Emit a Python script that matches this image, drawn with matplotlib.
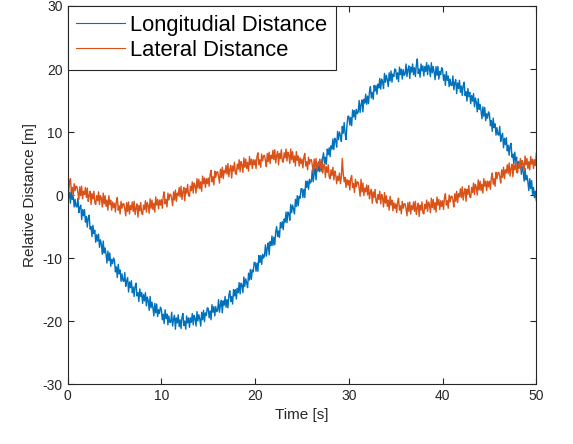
import matplotlib
matplotlib.use('Agg')
import matplotlib.pyplot as plt
import numpy as np

plt.rcParams['font.family'] = ['Liberation Sans', 'DejaVu Sans']
plt.rcParams['axes.unicode_minus'] = False

# values (m), one row per second, 0.1 s apart
longitudinal = [
    1.4, -0.4, 0.4, -1.3, 0.8, -0.7, -0.1, -1.9, -0.7, -1.8,
    -1.9, -0.5, -2.8, -2.0, -1.6, -3.9, -2.3, -3.3, -2.3, -4.3,
    -3.4, -5.1, -3.6, -3.2, -5.4, -5.0, -6.6, -4.8, -6.1, -5.6,
    -7.5, -6.3, -7.3, -6.2, -8.3, -7.1, -7.8, -9.4, -7.3, -9.2,
    -8.4, -9.4, -10.8, -8.9, -10.4, -9.2, -11.3, -10.2, -10.9, -10.0,
    -10.4, -12.2, -11.4, -13.1, -11.0, -12.5, -11.9, -13.7, -12.5, -13.6,
    -13.7, -12.3, -14.5, -13.6, -13.1, -15.4, -13.8, -14.7, -13.6, -15.5,
    -14.6, -16.1, -14.5, -14.0, -16.0, -15.5, -16.9, -14.9, -16.1, -15.5,
    -17.2, -15.8, -16.8, -15.5, -17.6, -16.2, -16.8, -18.3, -16.1, -17.9,
    -17.0, -17.9, -19.2, -17.2, -18.7, -17.3, -19.3, -18.2, -18.8, -17.8,
    -18.1, -19.8, -18.9, -20.4, -18.2, -19.6, -18.9, -20.6, -19.2, -20.2,
    -20.2, -18.6, -20.8, -19.7, -19.1, -21.3, -19.5, -20.3, -19.0, -20.9,
    -19.8, -21.2, -19.4, -18.8, -20.7, -20.0, -21.3, -19.2, -20.3, -19.5,
    -21.0, -19.5, -20.2, -18.8, -20.6, -19.1, -19.6, -20.8, -18.5, -20.0,
    -19.0, -19.7, -20.8, -18.6, -19.8, -18.3, -20.1, -18.7, -19.1, -17.9,
    -18.0, -19.5, -18.4, -19.8, -17.4, -18.6, -17.7, -19.2, -17.7, -18.5,
    -18.3, -16.6, -18.6, -17.4, -16.7, -18.7, -16.8, -17.5, -16.1, -17.8,
    -16.6, -17.9, -15.9, -15.2, -16.9, -16.1, -17.3, -15.0, -16.0, -15.0,
    -16.5, -14.8, -15.5, -13.9, -15.7, -14.0, -14.3, -15.5, -13.0, -14.5,
    -13.3, -13.9, -14.7, -12.4, -13.5, -11.8, -13.4, -11.9, -12.2, -10.7,
    -10.7, -12.1, -10.8, -12.1, -9.6, -10.7, -9.6, -11.0, -9.4, -10.0,
    -9.7, -7.9, -9.7, -8.4, -7.6, -9.5, -7.4, -8.0, -6.5, -8.0,
    -6.7, -7.9, -5.8, -5.0, -6.6, -5.7, -6.7, -4.4, -5.2, -4.2,
    -5.5, -3.8, -4.3, -2.7, -4.4, -2.7, -2.9, -4.0, -1.5, -2.8,
    -1.6, -2.2, -3.0, -0.7, -1.8, -0.1, -1.7, -0.2, -0.5, 1.0,
    1.0, -0.4, 0.9, -0.4, 2.2, 1.2, 2.2, 0.9, 2.5, 1.9,
    2.2, 4.0, 2.1, 3.4, 4.2, 2.4, 4.4, 3.8, 5.3, 3.7,
    5.0, 3.8, 5.9, 6.7, 5.1, 6.0, 4.9, 7.3, 6.4, 7.5,
    6.1, 7.8, 7.3, 8.9, 7.2, 9.0, 8.7, 7.6, 10.1, 8.8,
    10.0, 9.4, 8.5, 10.9, 9.8, 11.5, 9.8, 8.8, 11.1, 12.5,
    12.5, 11.1, 12.3, 11.0, 13.5, 12.4, 13.4, 12.0, 13.6, 12.9,
    13.2, 15.0, 13.1, 14.3, 15.1, 13.2, 15.2, 14.6, 16.0, 14.4,
    15.7, 14.5, 16.4, 17.2, 15.4, 16.3, 15.2, 17.4, 16.5, 17.4,
    16.0, 17.6, 17.0, 18.5, 16.8, 18.4, 18.0, 16.9, 19.3, 17.9,
    19.0, 18.3, 17.2, 19.4, 18.1, 19.7, 17.9, 19.2, 18.8, 20.0,
    19.9, 18.4, 19.4, 18.0, 20.3, 19.1, 20.0, 18.4, 19.9, 19.0,
    19.2, 20.8, 18.8, 19.9, 20.5, 18.5, 20.3, 19.5, 20.8, 19.1,
    20.2, 18.8, 20.6, 21.6, 19.3, 20.0, 18.7, 20.8, 19.7, 20.5,
    18.9, 20.4, 19.6, 21.0, 19.1, 20.6, 20.1, 18.8, 21.0, 19.4,
    20.4, 19.5, 18.3, 20.4, 19.0, 20.4, 18.4, 19.6, 19.1, 20.2,
    19.9, 18.2, 19.1, 17.4, 19.6, 18.2, 18.9, 17.2, 18.4, 17.4,
    17.4, 18.9, 16.7, 17.8, 18.3, 16.1, 17.8, 16.9, 18.2, 16.3,
    17.3, 15.8, 17.4, 17.9, 15.8, 16.4, 14.9, 16.9, 15.6, 16.3,
    14.5, 15.8, 14.9, 16.1, 14.0, 15.4, 14.7, 13.2, 15.3, 13.6,
    14.4, 13.4, 12.1, 14.0, 12.5, 13.9, 11.8, 12.9, 12.2, 13.2,
    12.8, 11.0, 11.8, 10.1, 12.2, 10.7, 11.3, 9.5, 10.7, 9.6,
    9.5, 10.9, 8.5, 9.4, 9.8, 7.5, 9.0, 8.0, 9.1, 7.0,
    7.9, 6.3, 7.8, 8.2, 6.0, 6.5, 4.9, 6.8, 5.4, 6.0,
    4.1, 5.3, 4.3, 5.4, 3.3, 4.5, 3.7, 2.2, 4.2, 2.4,
    3.1, 2.1, 0.7, 2.6, 1.0, 2.3, 0.1, 1.2, -0.4, 0.6,
    -0.9,
]

lateral = [
    1.8, 0.3, 2.0, 2.6, 0.6, 1.2, -0.2, 1.8, 0.7, 1.4,
    1.3, 0.4, -0.7, 1.3, -0.1, 1.4, -0.6, 0.6, 0.1, 1.2,
    -0.4, 1.1, -1.0, 0.0, 0.6, -1.5, 0.2, -0.6, 0.6, -1.2,
    -1.5, -0.1, -0.9, 0.5, -1.5, -0.1, -0.5, -1.9, 0.3, -1.4,
    -0.1, -1.8, -0.8, -2.4, -0.1, -1.5, -0.8, -2.4, -1.1, -2.0,
    -1.3, -2.7, -1.0, -0.4, -2.4, -1.7, -3.0, -1.0, -2.1, -1.4,
    -1.4, -2.2, -3.3, -1.2, -2.6, -1.1, -3.0, -1.7, -2.3, -1.1,
    -2.6, -1.0, -3.1, -2.0, -1.4, -3.5, -1.7, -2.5, -1.2, -2.9,
    -3.1, -1.6, -2.3, -0.9, -2.7, -1.2, -1.7, -2.9, -0.6, -2.1,
    -0.8, -2.3, -1.3, -2.7, -0.3, -1.6, -0.7, -2.2, -0.8, -1.6,
    -0.7, -2.1, -0.2, 0.5, -1.4, -0.7, -1.9, 0.3, -0.8, 0.1,
    0.1, -0.6, -1.7, 0.5, -0.8, 0.8, -1.0, 0.3, -0.1, 1.2,
    -0.3, 1.4, -0.7, 0.5, 1.2, -0.9, 1.0, 0.3, 1.7, -0.1,
    -0.2, 1.4, 0.7, 2.1, 0.3, 1.9, 1.5, 0.3, 2.6, 1.1,
    2.5, 1.0, 2.1, 0.6, 3.0, 1.8, 2.7, 1.2, 2.6, 1.8,
    2.7, 1.4, 3.2, 3.9, 2.1, 2.9, 1.6, 3.8, 2.8, 3.6,
    3.7, 3.0, 1.9, 4.1, 2.8, 4.4, 2.6, 3.9, 3.5, 4.7,
    3.3, 5.0, 2.9, 4.1, 4.7, 2.7, 4.6, 3.8, 5.2, 3.4,
    3.3, 4.9, 4.1, 5.6, 3.7, 5.3, 4.8, 3.6, 5.9, 4.4,
    5.7, 4.2, 5.2, 3.8, 6.1, 4.8, 5.7, 4.2, 5.6, 4.8,
    5.6, 4.2, 6.1, 6.7, 4.8, 5.6, 4.4, 6.5, 5.4, 6.2,
    6.3, 5.5, 4.5, 6.6, 5.3, 6.8, 5.0, 6.3, 5.8, 7.1,
    5.6, 7.2, 5.1, 6.3, 6.9, 4.8, 6.6, 5.8, 7.2, 5.4,
    5.2, 6.7, 5.9, 7.3, 5.4, 6.8, 6.3, 5.0, 7.3, 5.6,
    6.9, 5.2, 6.2, 4.6, 6.9, 5.5, 6.2, 4.6, 5.9, 5.0,
    5.7, 4.3, 6.0, 6.6, 4.6, 5.3, 4.0, 6.0, 4.9, 5.6,
    5.6, 4.8, 3.6, 5.7, 4.3, 5.8, 3.9, 5.1, 4.6, 5.7,
    4.2, 5.7, 3.5, 4.5, 5.0, 2.8, 4.5, 3.6, 4.8, 2.9,
    2.6, 4.0, 3.1, 4.4, 2.4, 3.8, 3.2, 1.8, 3.0, 2.3,
    3.5, 1.8, 2.8, 5.8, 3.5, 2.1, 2.8, 1.2, 2.5, 1.6,
    2.3, 0.8, 2.6, 3.1, 1.2, 1.8, 0.4, 2.5, 1.3, 2.1,
    2.0, 1.1, -0.2, 2.5, 0.5, 1.9, -0.1, 1.1, 0.5, 1.6,
    0.0, 1.5, -0.6, 0.4, 0.9, -1.3, 0.5, -0.4, 0.9, -1.0,
    -1.3, 0.1, -0.7, 0.6, -1.4, 0.1, -0.5, -1.9, 0.4, -1.3,
    -0.1, -1.8, -0.8, -2.4, -0.2, -1.6, -0.8, -2.5, -1.2, -2.1,
    -1.4, -2.8, -1.1, -0.5, -2.4, -1.7, -3.0, -1.0, -2.1, -1.4,
    -1.4, -2.2, -3.3, -1.2, -2.6, -1.1, -3.0, -1.7, -2.3, -1.1,
    -2.6, -1.0, -3.1, -2.0, -1.3, -3.4, -1.6, -2.4, -1.1, -2.8,
    -3.0, -1.5, -2.2, -0.8, -2.6, -1.1, -1.6, -2.8, -0.5, -2.0,
    -0.7, -2.3, -1.2, -2.7, -0.3, -1.6, -0.7, -2.3, -0.9, -1.8,
    -0.9, -2.3, -0.4, 0.2, -1.6, -0.9, -2.1, 0.0, -1.1, -0.2,
    -0.2, -0.9, -1.9, 0.2, -1.0, 0.6, -1.2, 0.2, -0.3, 1.0,
    -0.4, 1.3, -0.8, 0.4, 1.0, -1.0, 0.9, 0.1, 1.5, -0.3,
    -0.4, 1.2, 0.4, 1.9, 0.1, 1.7, 1.2, 0.0, 2.4, 0.8,
    2.2, 0.7, 1.7, 0.3, 2.6, 1.4, 2.2, 0.7, 2.2, 1.3,
    2.2, 0.9, 2.8, 3.5, 1.7, 2.6, 1.4, 3.6, 2.6, 3.5,
    3.6, 2.9, 1.9, 4.0, 2.8, 4.4, 2.6, 4.0, 3.5, 4.8,
    3.4, 5.1, 3.0, 4.2, 4.9, 2.9, 4.7, 4.0, 5.4, 3.6,
    3.5, 5.0, 4.3, 5.8, 3.9, 5.5, 5.0, 3.9, 6.2, 4.8,
    5.8, 4.2, 5.3, 4.0, 6.1, 4.9, 5.7, 4.2, 5.6, 4.7,
    6.6,
]

t_long = np.arange(len(longitudinal)) * 0.1
t_lat = np.arange(len(lateral)) * 0.1

fig = plt.figure(figsize=(5.73, 4.44), dpi=100)
ax = fig.add_axes([0.118, 0.135, 0.818, 0.8515])

ax.plot(t_long, longitudinal, color=(0, 0.447, 0.741), lw=1.0, label='Longitudial Distance')
ax.plot(t_lat, lateral, color=(0.85, 0.325, 0.098), lw=1.0, label='Lateral Distance')

ax.set_xlim(0, 50)
ax.set_ylim(-30, 30)
ax.set_xticks(range(0, 51, 10))
ax.set_yticks(range(-30, 31, 10))
ax.tick_params(direction='in', top=True, right=True, labelsize=10, colors='0.15', length=4)
for s in ax.spines.values():
    s.set_color('0.15')
    s.set_linewidth(0.8)
ax.set_xlabel('Time [s]', fontsize=11, color='0.15')
ax.set_ylabel('Relative Distance [m]', fontsize=11, color='0.15')

leg = ax.legend(loc='upper left', fontsize=15.8, borderaxespad=0, fancybox=False,
                framealpha=1, edgecolor='0.15', handlelength=2.2, borderpad=0.4,
                labelspacing=0.2, handletextpad=0.25)
leg.get_frame().set_linewidth(0.8)
for h in leg.get_lines():
    h.set_linewidth(0.8)

fig.savefig('out.png', dpi=100)
